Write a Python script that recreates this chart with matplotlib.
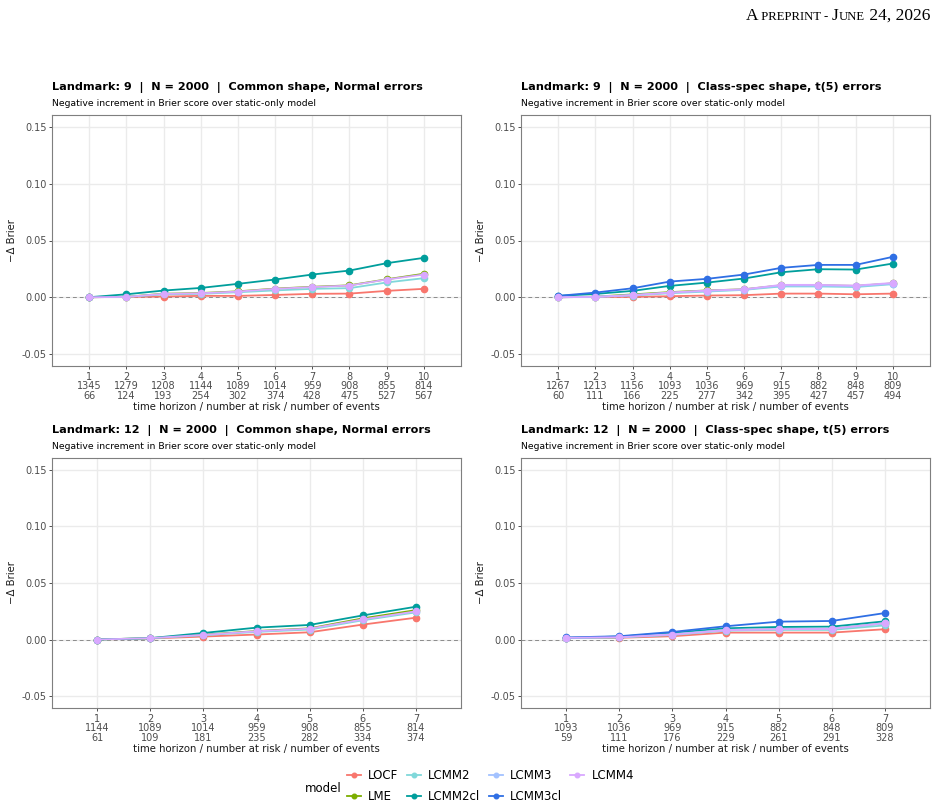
import numpy as np
import matplotlib
matplotlib.use("Agg")
import matplotlib.pyplot as plt
from matplotlib.lines import Line2D

plt.rcParams['font.family'] = ['DejaVu Sans']

# model levels and colours (ggplot style, the non-"cl" ones are lighter)
models = ["LOCF", "LME", "LCMM2", "LCMM2cl", "LCMM3", "LCMM3cl", "LCMM4"]
colors = {"LOCF": "#F8766D", "LME": "#7CAE00", "LCMM2": "#80D8DA",
          "LCMM2cl": "#009E9C", "LCMM3": "#A3C2FF", "LCMM3cl": "#2F6FE4",
          "LCMM4": "#D9A8FF"}

# landmark 9, common shape, normal errors
lm9_common_horizon = [1, 2, 3, 4, 5, 6, 7, 8, 9, 10]
lm9_common_risk = [1345, 1279, 1208, 1144, 1089, 1014, 959, 908, 855, 814]
lm9_common_events = [66, 124, 193, 254, 302, 374, 428, 475, 527, 567]
lm9_common = {
    "LOCF":    [0.0, 0.0003, 0.0006, 0.0012, 0.0012, 0.0020, 0.0030, 0.0032, 0.0056, 0.0074],
    "LME":     [0.0, 0.0004, 0.0031, 0.0037, 0.0052, 0.0076, 0.0092, 0.0105, 0.0158, 0.0207],
    "LCMM2":   [0.0, 0.0003, 0.0025, 0.0030, 0.0044, 0.0060, 0.0074, 0.0080, 0.0130, 0.0168],
    "LCMM2cl": [0.0, 0.0026, 0.0059, 0.0082, 0.0118, 0.0156, 0.0200, 0.0235, 0.0300, 0.0347],
    "LCMM4":   [0.0, 0.0003, 0.0030, 0.0035, 0.0050, 0.0074, 0.0090, 0.0103, 0.0156, 0.0200],
}

# landmark 9, class-specific shape, t(5) errors
lm9_class_horizon = [1, 2, 3, 4, 5, 6, 7, 8, 9, 10]
lm9_class_risk = [1267, 1213, 1156, 1093, 1036, 969, 915, 882, 848, 809]
lm9_class_events = [60, 111, 166, 225, 277, 342, 395, 427, 457, 494]
lm9_class = {
    "LOCF":    [0.0, 0.0003, 0.0003, 0.0009, 0.0015, 0.0018, 0.0032, 0.0032, 0.0026, 0.0032],
    "LME":     [0.0, 0.0005, 0.0025, 0.0045, 0.0060, 0.0070, 0.0105, 0.0105, 0.0100, 0.0122],
    "LCMM2":   [0.0, 0.0003, 0.0015, 0.0035, 0.0050, 0.0065, 0.0095, 0.0095, 0.0090, 0.0115],
    "LCMM2cl": [0.0012, 0.0029, 0.0056, 0.0100, 0.0129, 0.0165, 0.0220, 0.0247, 0.0244, 0.0297],
    "LCMM3":   [0.0, 0.0004, 0.0020, 0.0040, 0.0055, 0.0068, 0.0102, 0.0102, 0.0097, 0.0120],
    "LCMM3cl": [0.0012, 0.0041, 0.0079, 0.0138, 0.0162, 0.0200, 0.0259, 0.0285, 0.0285, 0.0356],
    "LCMM4":   [0.0, 0.0003, 0.0018, 0.0041, 0.0059, 0.0070, 0.0109, 0.0109, 0.0103, 0.0126],
}

# landmark 12, common shape, normal errors
lm12_common_horizon = [1, 2, 3, 4, 5, 6, 7]
lm12_common_risk = [1144, 1089, 1014, 959, 908, 855, 814]
lm12_common_events = [61, 109, 181, 235, 282, 334, 374]
lm12_common = {
    "LOCF":    [0.0, 0.0009, 0.0026, 0.0044, 0.0064, 0.0132, 0.0193],
    "LME":     [0.0, 0.0012, 0.0043, 0.0075, 0.0099, 0.0187, 0.0260],
    "LCMM2":   [0.0, 0.0011, 0.0038, 0.0067, 0.0088, 0.0170, 0.0240],
    "LCMM2cl": [0.0, 0.0012, 0.0058, 0.0105, 0.0129, 0.0213, 0.0290],
    "LCMM4":   [0.0, 0.0012, 0.0041, 0.0073, 0.0096, 0.0178, 0.0249],
}

# landmark 12, class-specific shape, t(5) errors
lm12_class_horizon = [1, 2, 3, 4, 5, 6, 7]
lm12_class_risk = [1093, 1036, 969, 915, 882, 848, 809]
lm12_class_events = [59, 111, 176, 229, 261, 291, 328]
lm12_class = {
    "LOCF":    [0.0012, 0.0015, 0.0029, 0.0061, 0.0061, 0.0061, 0.0091],
    "LME":     [0.0014, 0.0020, 0.0045, 0.0083, 0.0092, 0.0094, 0.0145],
    "LCMM2":   [0.0013, 0.0018, 0.0040, 0.0078, 0.0085, 0.0085, 0.0125],
    "LCMM2cl": [0.0015, 0.0026, 0.0058, 0.0099, 0.0111, 0.0114, 0.0161],
    "LCMM3":   [0.0015, 0.0022, 0.0047, 0.0085, 0.0093, 0.0096, 0.0142],
    "LCMM3cl": [0.0018, 0.0029, 0.0067, 0.0117, 0.0158, 0.0164, 0.0234],
    "LCMM4":   [0.0015, 0.0020, 0.0044, 0.0082, 0.0091, 0.0094, 0.0146],
}

panels = [
    ("Landmark: 9  |  N = 2000  |  Common shape, Normal errors",
     lm9_common_horizon, lm9_common_risk, lm9_common_events, lm9_common),
    ("Landmark: 9  |  N = 2000  |  Class-spec shape, t(5) errors",
     lm9_class_horizon, lm9_class_risk, lm9_class_events, lm9_class),
    ("Landmark: 12  |  N = 2000  |  Common shape, Normal errors",
     lm12_common_horizon, lm12_common_risk, lm12_common_events, lm12_common),
    ("Landmark: 12  |  N = 2000  |  Class-spec shape, t(5) errors",
     lm12_class_horizon, lm12_class_risk, lm12_class_events, lm12_class),
]

W, H = 941, 810
fig = plt.figure(figsize=(W / 100, H / 100), dpi=100)

# axes boxes in pixels: (left, top, right, bottom)
boxes = [(52, 115, 461, 366), (521, 115, 930, 366),
         (52, 458, 461, 708), (521, 458, 930, 708)]

grey = "#4d4d4d"
for (title, hz, risk, ev, vals), (l, t, r, b) in zip(panels, boxes):
    ax = fig.add_axes([l / W, 1 - b / H, (r - l) / W, (b - t) / H])
    n = len(hz)
    ax.set_xlim(0.5 - 0.05 * n, n + 0.5 + 0.05 * n)
    ax.set_ylim(-0.0606, 0.1606)
    ax.set_yticks([-0.05, 0.0, 0.05, 0.10, 0.15])
    ax.set_yticklabels(["-0.05", "0.00", "0.05", "0.10", "0.15"])
    ax.set_xticks(hz)
    ax.set_xticklabels([f"{h}\n{rk}\n{e}" for h, rk, e in zip(hz, risk, ev)],
                       linespacing=0.95)
    ax.grid(True, color="#ebebeb", lw=1.0, zorder=0)
    ax.set_axisbelow(True)
    for s in ax.spines.values():
        s.set_color("#7f7f7f")
        s.set_linewidth(0.8)
    ax.tick_params(labelsize=7, colors=grey, length=2.5, width=0.6, pad=1.5)
    ax.tick_params(axis="both", color="#333333")
    ax.axhline(0, ls=(0, (4, 3)), color="#8c8c8c", lw=0.7, zorder=1)
    for m in models:
        if m in vals:
            ax.plot(hz, vals[m], color=colors[m], lw=1.3,
                    marker="o", ms=4.5, zorder=2)
    ax.set_xlabel("time horizon / number at risk / number of events",
                  fontsize=7.3, color="#1a1a1a", labelpad=1)
    ax.set_ylabel("\u2212\u0394 Brier", fontsize=7.3, color="#1a1a1a", labelpad=3)
    ax.annotate(title, xy=(0, 1), xycoords="axes fraction", xytext=(0, 19.5),
                textcoords="offset points", fontsize=8.1, fontweight="bold",
                ha="left", va="center")
    ax.annotate("Negative increment in Brier score over static-only model",
                xy=(0, 1), xycoords="axes fraction", xytext=(0, 8.5),
                textcoords="offset points", fontsize=6.7, ha="left", va="center")

# legend
handles = [Line2D([], [], color=colors[m], lw=1.3, marker="o", ms=3.3)
           for m in models]
fig.legend(handles, models, ncol=4, loc="center left",
           bbox_to_anchor=(347 / W, 1 - 786 / H), frameon=False, fontsize=8.5,
           handlelength=1.2, handletextpad=0.6, columnspacing=0.7,
           labelspacing=0.7, borderaxespad=0, borderpad=0)
fig.text(305 / W, 1 - 789 / H, "model", fontsize=8.5, ha="left", va="center")

# running header in small caps
pieces = [("A", 12.5), (" PREPRINT - ", 9.2), ("J", 12.5), ("UNE", 9.2),
          (" 24, 2026", 12.5)]
fig.canvas.draw()
renderer = fig.canvas.get_renderer()
x = 746
for txt, sz in pieces:
    tt = fig.text(x / W, 1 - 20 / H, txt, fontsize=sz, family="Liberation Serif",
                  ha="left", va="baseline")
    bb = tt.get_window_extent(renderer)
    x += bb.width

fig.savefig("out.png", dpi=100)
